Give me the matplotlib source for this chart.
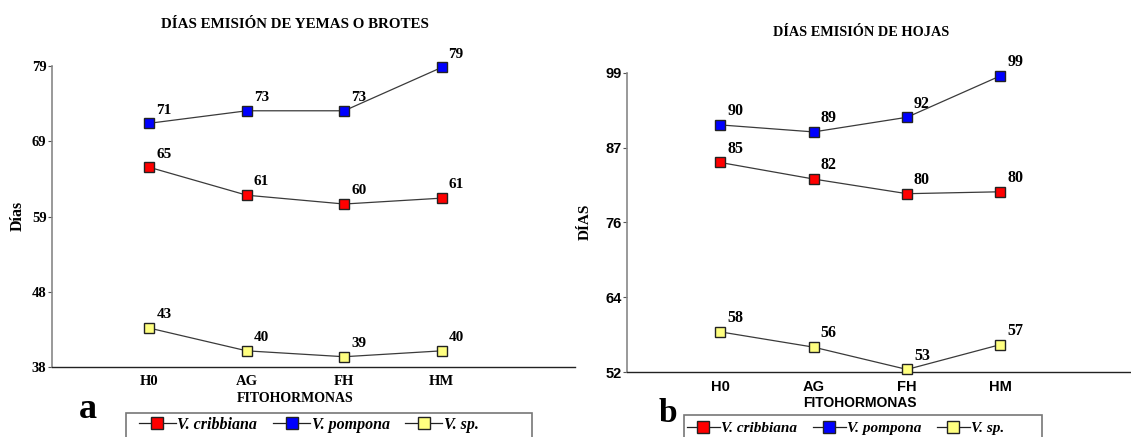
import numpy as np
import matplotlib.pyplot as plt
from matplotlib.lines import Line2D
from matplotlib.patches import Rectangle

# datos
categorias = ['H0', 'AG', 'FH', 'HM']
especies = ['V. cribbiana', 'V. pompona', 'V. sp.']
colores = ['#ff0000', '#0000ff', '#ffff80']

# a) días emisión de yemas o brotes
yemas_cribbiana = [65, 61, 60, 61]
yemas_pompona = [71, 73, 73, 79]
yemas_sp = [43, 40, 39, 40]
yemas_reales = [[65.2, 61.4, 60.2, 61.0], [71.2, 72.9, 72.9, 78.8], [43.3, 40.2, 39.4, 40.2]]
yemas_ticks = ['38', '48', '59', '69', '79']

# b) días emisión de hojas
hojas_cribbiana = [85, 82, 80, 80]
hojas_pompona = [90, 89, 92, 99]
hojas_sp = [58, 56, 53, 57]
hojas_reales = [[84.9, 82.3, 80.0, 80.3], [90.8, 89.7, 92.0, 98.5], [58.3, 55.9, 52.4, 56.3]]
hojas_ticks = ['52', '64', '76', '87', '99']

serif = 'Liberation Serif'
sans = 'Liberation Sans'
W, H = 1131, 437

fig = plt.figure(figsize=(11.31, 4.37), dpi=100)
ax1 = fig.add_axes([52 / W, 1 - 367 / H, (575 - 52) / W, (367 - 66) / H])
ax2 = fig.add_axes([627 / W, 1 - 372 / H, (1131 - 627) / W, (372 - 72.7) / H])


def panel(ax, reales, etiquetas, ticks, ymin, ymax, xmax, tick_font, lab_size):
    x = np.arange(len(categorias))
    for vals, labs, c in zip(reales, etiquetas, colores):
        ax.plot(x, vals, '-', color='#3a3a3a', lw=0.9, marker='s', ms=7.5,
                mfc=c, mec='#222222', mew=1.0, zorder=3, clip_on=False)
        for xi, yi, t in zip(x, vals, labs):
            ax.annotate(str(t), (xi, yi), xytext=(5, 7), textcoords='offset points',
                        fontsize=lab_size, fontweight='bold', family=serif,
                        bbox=dict(fc='white', ec='none', pad=0.5), zorder=2)
    ax.set_ylim(ymin, ymax)
    ax.set_xlim(-1, xmax)
    ax.set_yticks(np.linspace(ymin, ymax, 5))
    ax.set_yticklabels(ticks, family=tick_font, fontweight='bold', fontsize=10.5)
    ax.set_xticks(x)
    ax.set_xticklabels(categorias, family=tick_font, fontweight='bold', fontsize=10.5)
    ax.tick_params(axis='x', length=0, pad=6)
    ax.tick_params(axis='y', length=3, width=0.8, pad=1, color='#555555')
    for s in ['top', 'right']:
        ax.spines[s].set_visible(False)
    ax.spines['left'].set_color('#888888')
    ax.spines['left'].set_linewidth(1.2)
    ax.spines['bottom'].set_color('#222222')
    ax.spines['bottom'].set_linewidth(1.0)


panel(ax1, yemas_reales, [yemas_cribbiana, yemas_pompona, yemas_sp],
      yemas_ticks, 38, 79, 4.37, serif, 11)
panel(ax2, hojas_reales, [hojas_cribbiana, hojas_pompona, hojas_sp],
      hojas_ticks, 52, 99, 4.4, sans, 11.5)

fig.text(295 / W, 1 - 25 / H, 'DÍAS EMISIÓN DE YEMAS O BROTES', ha='center', va='center',
         family=serif, fontweight='bold', fontsize=10.8)
fig.text(861 / W, 1 - 32 / H, 'DÍAS EMISIÓN DE HOJAS', ha='center', va='center',
         family=serif, fontweight='bold', fontsize=10.3)
fig.text(18 / W, 1 - 216 / H, 'Días', rotation=90, ha='center', va='center',
         family=serif, fontweight='bold', fontsize=11.5)
fig.text(585 / W, 1 - 222 / H, 'DÍAS', rotation=90, ha='center', va='center',
         family=serif, fontweight='bold', fontsize=11)
fig.text(295 / W, 1 - 399 / H, 'FITOHORMONAS', ha='center', va='center',
         family=serif, fontweight='bold', fontsize=10)
fig.text(860 / W, 1 - 403 / H, 'FITOHORMONAS', ha='center', va='center',
         family=sans, fontweight='bold', fontsize=10)
fig.text(88 / W, 1 - 409 / H, 'a', ha='center', va='center',
         family=serif, fontweight='bold', fontsize=26)
fig.text(668 / W, 1 - 414 / H, 'b', ha='center', va='center',
         family=serif, fontweight='bold', fontsize=24)

# marcos de las leyendas (cortados por el borde inferior)
for x0, y0, x1 in [(126, 413, 532), (684, 415, 1042)]:
    fig.patches.append(Rectangle((x0 / W, -0.05), (x1 - x0) / W, 0.05 + 1 - y0 / H,
                                 transform=fig.transFigure, fill=False,
                                 ec='#777777', lw=1.2))

handles = [Line2D([0], [0], color='#222222', lw=0.9, marker='s', ms=8, mfc=c,
                  mec='#222222', mew=1.0) for c in colores]
for x0, y0, size, hl, cs in [(139, 425, 11.5, 2.3, 1.0), (687, 428, 11, 2.15, 1.0)]:
    fig.legend(handles, especies, loc='center left', bbox_to_anchor=(x0 / W, 1 - y0 / H),
               ncol=3, frameon=False, handlelength=hl, numpoints=1, columnspacing=cs,
               handletextpad=0.1, borderpad=0, borderaxespad=0,
               prop=dict(family=serif, style='italic', weight='bold', size=size))

fig.savefig('out.png', dpi=100)
